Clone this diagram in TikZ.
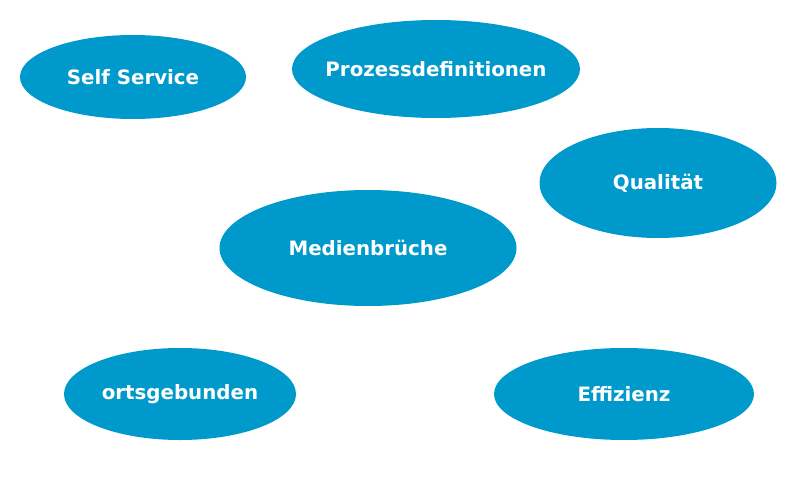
\documentclass[tikz,border=0pt]{standalone}
\usepackage{fontspec}
\setmainfont{DejaVu Sans}
\usepackage{xcolor}
\usetikzlibrary{shapes.geometric}
\definecolor{bubble}{HTML}{0099CC}
\newcommand{\bubbletext}[1]{\makebox[0pt]{#1}}

\tikzset{
  topic/.style={ellipse, fill=bubble, draw=none, inner sep=0pt,
    text=white, font=\fontsize{19.8}{23}\selectfont\bfseries}
}

\begin{document}
\begin{tikzpicture}[x=1pt, y=-1pt]
\useasboundingbox (0,0) rectangle (800,500);
% upper row
\node[topic, minimum width=226pt, minimum height=84pt] (selfservice) at (133,77) {\bubbletext{Self Service}};
\node[topic, minimum width=288pt, minimum height=98pt] (prozess) at (436,69) {\bubbletext{Prozessdefinitionen}};

% middle
\node[topic, minimum width=237pt, minimum height=110pt] (qualitaet) at (658,183) {\bubbletext{Qualität}};
\node[topic, minimum width=297pt, minimum height=116pt] (medien) at (368,248) {\bubbletext{Medienbrüche}};

% lower row
\node[topic, minimum width=232pt, minimum height=92pt] (orts) at (180,394) {\bubbletext{ortsgebunden}};
\node[topic, minimum width=260pt, minimum height=92pt] (effizienz) at (624,394) {\bubbletext{Effizienz}};
\end{tikzpicture}
\end{document}
